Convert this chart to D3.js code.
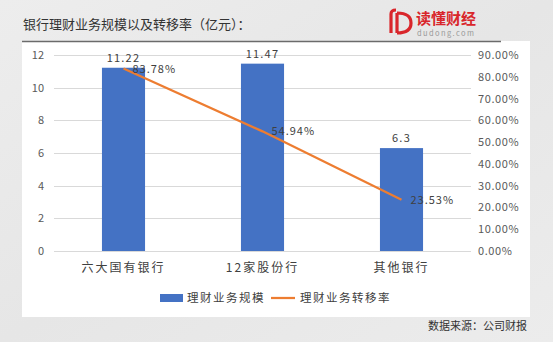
<!DOCTYPE html>
<html><head><meta charset="utf-8">
<script src="https://cdn.jsdelivr.net/npm/d3@7/dist/d3.min.js"></script>
<style>
body{margin:0;padding:0;background:#e9e9e9;}
svg{display:block;}
text{font-family:"Noto Sans CJK SC","Liberation Sans",sans-serif;}
</style></head>
<body>
<svg id="c" width="553" height="342"></svg>
<script>
const categories = ["六大国有银行","12家股份行","其他银行"];
const scaleValues = [11.22, 11.47, 6.3];
const rateValues = [83.78, 54.94, 23.53];
const leftTicks = [0,2,4,6,8,10,12];
const rightTicks = [0,10,20,30,40,50,60,70,80,90];
const seriesNames = ["理财业务规模","理财业务转移率"];

const svg = d3.select("#c");
const W = 553, H = 342;

// background
const defs = svg.append("defs");
const g0 = defs.append("linearGradient").attr("id","bg").attr("x1","0").attr("y1","0").attr("x2","1").attr("y2","1");
g0.append("stop").attr("offset","0").attr("stop-color","#ededed");
g0.append("stop").attr("offset","0.5").attr("stop-color","#e6e6e6");
g0.append("stop").attr("offset","1").attr("stop-color","#ececec");
svg.append("rect").attr("width",W).attr("height",H).attr("fill","url(#bg)");

// panel
svg.append("rect").attr("x",22).attr("y",41).attr("width",508).attr("height",276).attr("fill","#fff");
svg.append("line").attr("x1",22).attr("x2",501).attr("y1",41.5).attr("y2",41.5).attr("stroke","#6b6b6b").attr("stroke-width",1.5);

// title
svg.append("text").attr("x",23).attr("y",29).attr("font-size",13).attr("fill","#333")
  .text("银行理财业务规模以及转移率（亿元）：");

// logo
const logo = svg.append("g");
logo.append("path").attr("d","M391 14 L391 33 M397 13 L397 33 M397 13 Q411 13 411 23 Q411 33 397 33 M391 14 Q391 10 396 10")
  .attr("fill","none").attr("stroke","#d9262b").attr("stroke-width",3.2);
logo.append("text").attr("x",416).attr("y",24).attr("font-size",15).attr("font-weight","bold").attr("fill","#d9262b").text("读懂财经");
logo.append("text").attr("x",417).attr("y",36).attr("font-size",7.5).attr("fill","#999").attr("letter-spacing","1.4").text("dudong.com");

const x0 = 54, x1 = 471, yTop = 55, yBot = 251;
const xb = d3.scaleBand().domain(categories).range([x0,x1]).padding(0);
const barW = xb.bandwidth()*0.31;
const yL = d3.scaleLinear().domain([0,12]).range([yBot,yTop]);
const yR = d3.scaleLinear().domain([0,90]).range([yBot,yTop]);

// gridlines
svg.append("g").selectAll("line").data(leftTicks).join("line")
  .attr("x1",x0).attr("x2",x1).attr("y1",d=>Math.round(yL(d))+0.5).attr("y2",d=>Math.round(yL(d))+0.5)
  .attr("stroke","#d9d9d9").attr("stroke-width",1);

// left axis
const la = svg.append("g").attr("transform",`translate(${x0},0)`)
  .call(d3.axisLeft(yL).tickValues(leftTicks).tickSize(0).tickPadding(10).tickFormat(d3.format("d")));
la.select(".domain").remove();
la.selectAll("text").attr("font-size",11).attr("fill","#595959").attr("font-family","Liberation Sans, sans-serif");

// right axis
const ra = svg.append("g").attr("transform",`translate(${x1},0)`)
  .call(d3.axisRight(yR).tickValues(rightTicks).tickSize(0).tickPadding(7).tickFormat(d=>d.toFixed(2)+"%"));
ra.select(".domain").remove();
ra.selectAll("text").attr("font-size",11).attr("fill","#595959").attr("letter-spacing","0.6").attr("font-family","Liberation Sans, sans-serif");

// bars
svg.append("g").selectAll("rect").data(scaleValues).join("rect")
  .attr("x",(d,i)=>xb(categories[i])+xb.bandwidth()/2-barW/2)
  .attr("width",barW)
  .attr("y",d=>yL(d)).attr("height",d=>yBot-yL(d))
  .attr("fill","#4472c4");

// bar labels
svg.append("g").selectAll("text").data(scaleValues).join("text")
  .attr("x",(d,i)=>xb(categories[i])+xb.bandwidth()/2)
  .attr("y",d=>yL(d)-6)
  .attr("text-anchor","middle").attr("font-size",11).attr("fill","#404040").attr("letter-spacing","1.2")
  .attr("font-family","Liberation Sans, sans-serif")
  .text(d=>d);

// line
const line = d3.line().x((d,i)=>xb(categories[i])+xb.bandwidth()/2).y(d=>yR(d));
svg.append("path").datum(rateValues).attr("d",line).attr("fill","none").attr("stroke","#ed7d31").attr("stroke-width",2.25);

// line labels
svg.append("g").selectAll("text").data(rateValues).join("text")
  .attr("x",(d,i)=>xb(categories[i])+xb.bandwidth()/2+9)
  .attr("y",d=>yR(d)+4)
  .attr("font-size",11).attr("fill","#404040").attr("letter-spacing","1")
  .attr("font-family","Liberation Sans, sans-serif")
  .text(d=>d.toFixed(2)+"%");

// category labels
svg.append("g").selectAll("text").data(categories).join("text")
  .attr("x",d=>xb(d)+xb.bandwidth()/2).attr("y",272)
  .attr("text-anchor","middle").attr("font-size",12).attr("fill","#404040").attr("letter-spacing","2")
  .text(d=>d);

// legend
const lg = svg.append("g");
lg.append("rect").attr("x",160).attr("y",294).attr("width",23).attr("height",8).attr("fill","#4472c4");
lg.append("text").attr("x",187).attr("y",302).attr("font-size",11.5).attr("fill","#404040").attr("letter-spacing","1.5").text(seriesNames[0]);
lg.append("line").attr("x1",271).attr("x2",295).attr("y1",298).attr("y2",298).attr("stroke","#ed7d31").attr("stroke-width",2.25);
lg.append("text").attr("x",300).attr("y",302).attr("font-size",11.5).attr("fill","#404040").attr("letter-spacing","1.5").text(seriesNames[1]);

// source
svg.append("text").attr("x",527).attr("y",330).attr("text-anchor","end").attr("font-size",11).attr("fill","#333").text("数据来源：公司财报");
</script>
</body></html>
